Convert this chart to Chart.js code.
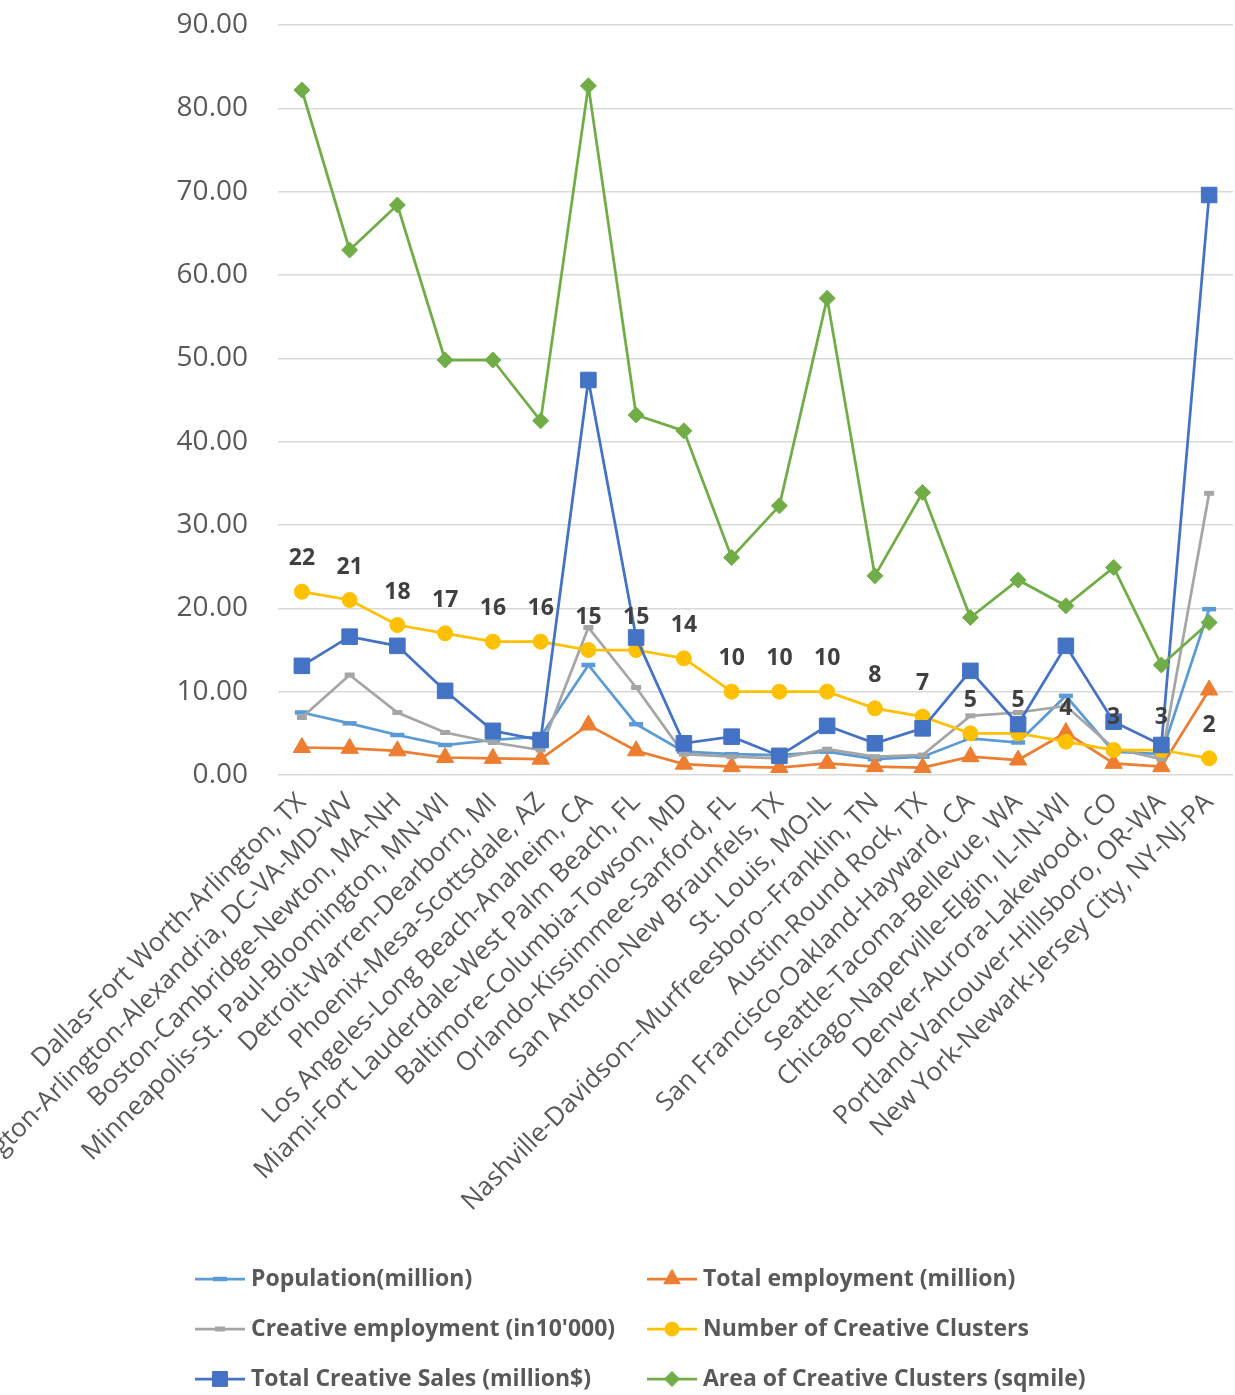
<!DOCTYPE html>
<html lang="en">
<head>
<meta charset="UTF-8">
<title>Creative clusters by metro area</title>
<script src="https://cdn.jsdelivr.net/npm/chart.js"></script>
<style>
    body { margin: 0; background: #ffffff; }
    #wrap { width: 1235px; height: 1395px; }
</style>
</head>
<body>
<div id="wrap"><canvas id="metroChart" width="1235" height="1395"></canvas></div>
<script>
const categories = [
    "Dallas-Fort Worth-Arlington, TX",
    "Washington-Arlington-Alexandria, DC-VA-MD-WV",
    "Boston-Cambridge-Newton, MA-NH",
    "Minneapolis-St. Paul-Bloomington, MN-WI",
    "Detroit-Warren-Dearborn, MI",
    "Phoenix-Mesa-Scottsdale, AZ",
    "Los Angeles-Long Beach-Anaheim, CA",
    "Miami-Fort Lauderdale-West Palm Beach, FL",
    "Baltimore-Columbia-Towson, MD",
    "Orlando-Kissimmee-Sanford, FL",
    "San Antonio-New Braunfels, TX",
    "St. Louis, MO-IL",
    "Nashville-Davidson--Murfreesboro--Franklin, TN",
    "Austin-Round Rock, TX",
    "San Francisco-Oakland-Hayward, CA",
    "Seattle-Tacoma-Bellevue, WA",
    "Chicago-Naperville-Elgin, IL-IN-WI",
    "Denver-Aurora-Lakewood, CO",
    "Portland-Vancouver-Hillsboro, OR-WA",
    "New York-Newark-Jersey City, NY-NJ-PA"
];
const population = [7.5, 6.2, 4.8, 3.6, 4.2, 4.6, 13.2, 6.1, 2.8, 2.5, 2.4, 2.8, 1.9, 2.2, 4.4, 3.9, 9.5, 2.8, 2.5, 19.9];
const totalEmployment = [3.3, 3.2, 2.9, 2.1, 2.0, 1.9, 6.0, 2.9, 1.3, 1.0, 0.9, 1.4, 1.0, 0.9, 2.2, 1.8, 5.1, 1.4, 1.0, 10.2];
const creativeEmployment = [6.9, 12.0, 7.5, 5.1, 3.9, 3.0, 17.7, 10.5, 2.5, 2.2, 2.0, 3.1, 2.2, 2.4, 7.1, 7.5, 8.3, 3.2, 1.9, 33.8];
const clusterCount = [22, 21, 18, 17, 16, 16, 15, 15, 14, 10, 10, 10, 8, 7, 5, 5, 4, 3, 3, 2];
const creativeSales = [13.1, 16.6, 15.5, 10.1, 5.3, 4.2, 47.4, 16.5, 3.8, 4.6, 2.3, 5.9, 3.8, 5.6, 12.5, 6.1, 15.5, 6.4, 3.6, 69.6];
const clusterArea = [82.2, 63.0, 68.4, 49.8, 49.8, 42.5, 82.7, 43.2, 41.3, 26.1, 32.3, 57.2, 23.9, 33.9, 18.9, 23.4, 20.3, 24.9, 13.2, 18.3];

const textColor = '#595959';
const fontFamily = '"Open Sans", sans-serif';

function series(label, data, color, style, radius, pointBorder, order) {
    return {
        label: label,
        data: data,
        borderColor: color,
        backgroundColor: color,
        borderWidth: 2.75,
        pointStyle: style,
        pointRadius: radius,
        pointHoverRadius: radius,
        pointBorderWidth: pointBorder,
        pointBackgroundColor: color,
        pointBorderColor: color,
        tension: 0,
        clip: false,
        order: order
    };
}

const datasets = [
    series('Population(million)', population, '#5B9BD5', 'line', 7, 4.5, 6),
    series('Total employment (million)', totalEmployment, '#ED7D31', 'triangle', 10, 1, 5),
    series("Creative employment (in10'000)", creativeEmployment, '#A5A5A5', 'line', 5, 5, 4),
    series('Number of Creative Clusters', clusterCount, '#FFC000', 'circle', 7.5, 1, 3),
    series('Total Creative Sales (million$)', creativeSales, '#4472C4', 'rect', 11, 1, 2),
    series('Area of Creative Clusters (sqmile)', clusterArea, '#70AD47', 'rectRot', 8, 1, 1)
];

// value labels above the cluster count points
const clusterLabels = {
    id: 'clusterLabels',
    afterDatasetsDraw(chart) {
        const ctx = chart.ctx;
        const meta = chart.getDatasetMeta(3);
        ctx.save();
        ctx.font = 'bold 23px ' + fontFamily;
        ctx.fillStyle = '#404040';
        ctx.textAlign = 'center';
        ctx.textBaseline = 'middle';
        meta.data.forEach(function(pt, i) {
            ctx.fillText(String(clusterCount[i]), pt.x, pt.y - 33);
        });
        ctx.restore();
    }
};

// two-column legend at the bottom
const gridLegend = {
    id: 'gridLegend',
    afterDraw(chart) {
        const ctx = chart.ctx;
        const colX = [195, 647];
        ctx.save();
        chart.data.datasets.forEach(function(ds, i) {
            const x = colX[i % 2];
            const y = 1279 + Math.floor(i / 2) * 50;
            ctx.strokeStyle = ds.borderColor;
            ctx.fillStyle = ds.borderColor;
            ctx.lineWidth = 2.75;
            ctx.beginPath();
            ctx.moveTo(x, y);
            ctx.lineTo(x + 50, y);
            ctx.stroke();
            ctx.lineWidth = ds.pointBorderWidth;
            Chart.helpers.drawPoint(ctx, {
                pointStyle: ds.pointStyle,
                radius: ds.pointStyle === 'line' ? ds.pointRadius : ds.pointRadius - 0.5,
                borderWidth: ds.pointBorderWidth,
                rotation: 0
            }, x + 25, y);
            ctx.font = 'bold 23px ' + fontFamily;
            ctx.fillStyle = textColor;
            ctx.textAlign = 'left';
            ctx.textBaseline = 'middle';
            ctx.fillText(ds.label, x + 56, y);
        });
        ctx.restore();
    }
};

new Chart(document.getElementById('metroChart'), {
    type: 'line',
    data: { labels: categories, datasets: datasets },
    plugins: [clusterLabels, gridLegend],
    options: {
        responsive: false,
        animation: false,
        layout: { autoPadding: false, padding: { top: 25, right: 2, bottom: 150, left: 0 } },
        plugins: {
            legend: { display: false },
            tooltip: { enabled: false }
        },
        scales: {
            x: {
                offset: true,
                grid: { display: false },
                border: { display: false },
                ticks: {
                    autoSkip: false,
                    minRotation: 45,
                    maxRotation: 45,
                    padding: 4,
                    color: textColor,
                    font: { family: fontFamily, size: 26 }
                },
                afterFit(scale) {
                    scale.height = 470;
                    scale.paddingLeft = 0;
                    scale.paddingRight = 0;
                }
            },
            y: {
                min: 0,
                max: 90,
                grid: { color: '#D9D9D9', lineWidth: 1.5, drawTicks: false },
                border: { display: false },
                ticks: {
                    stepSize: 10,
                    padding: 30,
                    color: textColor,
                    font: { family: fontFamily, size: 28 },
                    callback: function(v) { return v.toFixed(2); }
                },
                afterFit(scale) {
                    scale.width = 278;
                    scale.paddingTop = 0;
                    scale.paddingBottom = 0;
                }
            }
        }
    }
});
</script>
</body>
</html>
